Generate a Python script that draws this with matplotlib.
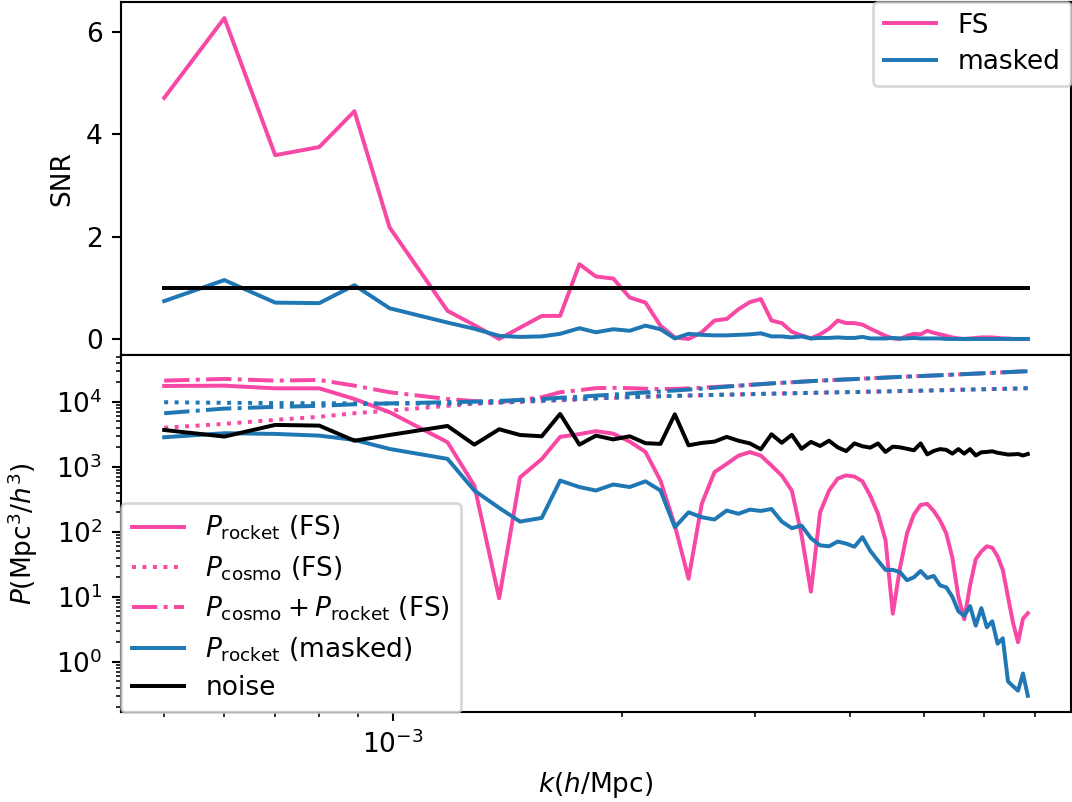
import matplotlib
matplotlib.use("Agg")
import matplotlib.pyplot as plt
import numpy as np

# k values (units of 1e-3 h/Mpc)
k_vals = [0.50, 0.60, 0.70, 0.80, 0.89, 0.99, 1.18, 1.28, 1.38, 1.47, 1.57, 1.66, 1.76,
          1.85, 1.95, 2.05, 2.15, 2.25, 2.35, 2.45, 2.55, 2.65, 2.75,
          2.85, 2.95, 3.05, 3.15, 3.25, 3.35, 3.45, 3.55, 3.65, 3.75,
          3.85, 3.95, 4.05, 4.15, 4.25, 4.35, 4.45, 4.55, 4.65, 4.75,
          4.85, 4.95, 5.05, 5.15, 5.25, 5.35, 5.45, 5.55, 5.65, 5.75,
          5.85, 5.95, 6.05, 6.15, 6.25, 6.35, 6.45, 6.55, 6.65, 6.75, 6.85]

snr_fs = [4.71, 6.27, 3.59, 3.75, 4.45, 2.18, 0.55, 0.27, 0.00, 0.22, 0.45, 0.45, 1.46,
          1.22, 1.18, 0.81, 0.71, 0.26, 0.03, 0.00, 0.13, 0.36, 0.39,
          0.58, 0.72, 0.78, 0.36, 0.31, 0.14, 0.07, 0.01, 0.09, 0.20,
          0.36, 0.31, 0.31, 0.28, 0.20, 0.13, 0.06, 0.01, 0.00, 0.06,
          0.10, 0.09, 0.16, 0.12, 0.09, 0.06, 0.03, 0.01, 0.00, 0.01,
          0.02, 0.03, 0.03, 0.03, 0.02, 0.01, 0.01, 0.00, 0.00, 0.00, 0.00]

snr_masked = [0.74, 1.15, 0.71, 0.70, 1.05, 0.60, 0.32, 0.20, 0.06, 0.04, 0.05, 0.10, 0.21,
              0.13, 0.19, 0.16, 0.26, 0.19, 0.01, 0.10, 0.08, 0.07, 0.07,
              0.08, 0.09, 0.11, 0.05, 0.05, 0.03, 0.05, 0.01, 0.02, 0.02,
              0.03, 0.02, 0.02, 0.04, 0.01, 0.01, 0.01, 0.02, 0.01, 0.01,
              0.02, 0.01, 0.01, 0.01, 0.01, 0.00, 0.00, 0.00, 0.00, 0.00,
              0.00, 0.00, 0.00, 0.00, 0.00, 0.00, 0.00, 0.00, 0.00, 0.00, 0.00]

snr_level = 1.0
snr_ticks = [0, 2, 4, 6]

p_rocket_fs = [17600, 17800, 16200, 16200, 11100, 6950, 2400, 515, 9.5, 690, 1320, 2900, 3200,
               3550, 3250, 2450, 1700, 616, 126, 19, 270, 830, 1110,
               1490, 1690, 1490, 1050, 735, 433, 90, 12, 200, 430,
               660, 740, 710, 600, 360, 190, 75, 5.5, 28, 95,
               185, 260, 270, 210, 150, 95, 40, 10, 4.5, 15,
               38, 50, 60, 57, 42, 26, 10, 4, 2.0, 4.6, 5.6]

p_cosmo_fs = [4000, 4600, 5300, 5900, 6700, 7350, 8700, 9400, 9700, 10000, 10300, 10600, 10900,
              11300, 11600, 11850, 12050, 12250, 12400, 12550, 12700, 12850, 12950,
              13050, 13150, 13300, 13400, 13500, 13600, 13700, 13800, 13900, 14000,
              14050, 14150, 14200, 14300, 14400, 14450, 14550, 14600, 14700, 14750,
              14850, 14900, 15000, 15050, 15150, 15200, 15300, 15350, 15450, 15500,
              15600, 15650, 15700, 15800, 15850, 15900, 16000, 16050, 16100, 16200, 16300]

p_total_fs = [21300, 22600, 21300, 21800, 17800, 14100, 11100, 10300, 9900, 10800, 11800, 14100, 15200,
              16300, 16500, 16300, 16000, 15800, 15900, 16200, 16600, 17000, 17400,
              17800, 18300, 18800, 19300, 19700, 20100, 20500, 20900, 21300, 21600,
              21900, 22200, 22500, 22800, 23100, 23400, 23700, 24000, 24300, 24550,
              24800, 25050, 25300, 25550, 25800, 26050, 26300, 26550, 26800, 27050,
              27300, 27550, 27800, 28050, 28300, 28550, 28800, 29050, 29300, 29500, 29700]

p_rocket_masked = [2860, 3300, 3220, 3030, 2600, 1890, 1330, 433, 234, 144, 164, 616, 490,
                   433, 536, 490, 600, 433, 118, 200, 168, 155, 213,
                   190, 220, 210, 225, 144, 114, 125, 80, 62, 60,
                   71, 66, 59, 83, 51, 36, 26, 26, 24, 18,
                   20, 25, 19.5, 21, 15, 14, 10, 6, 5.1, 7.2,
                   3.6, 6.7, 3.4, 4.2, 1.9, 2.3, 0.5, 0.42, 0.36, 0.66, 0.30]

p_cosmo_masked = [9900, 9700, 9600, 9550, 9500, 9450, 9400, 9600, 9900, 10200, 10500, 10800, 11100,
                  11400, 11650, 11850, 12050, 12250, 12400, 12550, 12700, 12850, 12950,
                  13050, 13150, 13300, 13400, 13500, 13600, 13700, 13800, 13900, 14000,
                  14050, 14150, 14200, 14300, 14400, 14450, 14550, 14600, 14700, 14750,
                  14850, 14900, 15000, 15050, 15150, 15200, 15300, 15350, 15450, 15500,
                  15600, 15650, 15700, 15800, 15850, 15900, 16000, 16050, 16100, 16200, 16300]

p_total_masked = [6700, 7900, 8400, 8700, 9200, 9500, 9900, 10100, 10400, 10700, 11100, 11600, 12000,
                  12500, 13000, 13500, 14000, 14500, 15000, 15500, 16000, 16600, 17200,
                  17800, 18300, 18800, 19300, 19700, 20100, 20500, 20900, 21300, 21600,
                  21900, 22200, 22500, 22800, 23100, 23400, 23700, 24000, 24300, 24550,
                  24800, 25050, 25300, 25550, 25800, 26050, 26300, 26550, 26800, 27050,
                  27300, 27550, 27800, 28050, 28300, 28550, 28800, 29050, 29300, 29500, 29700]

p_noise = [3700, 2930, 4430, 4320, 2530, 3100, 4270, 2200, 3800, 3100, 2960, 6530, 2200,
           3030, 2650, 2960, 2320, 2260, 6450, 2150, 2340, 2450, 2900,
           2530, 2300, 1870, 3180, 2350, 3120, 1900, 2430, 2100, 2530,
           2000, 1750, 2300, 2080, 1980, 2300, 1700, 2050, 2000, 1900,
           1800, 2300, 1560, 1760, 1880, 1830, 1600, 1880, 1600, 1880,
           1500, 1680, 1700, 1740, 1650, 1600, 1550, 1560, 1580, 1500, 1580]

PINK = "#f748a5"
BLUE = "#1f77b4"


def main():
    k = np.array(k_vals) * 1e-3

    W, H, DPI = 1072, 802, 190
    fig = plt.figure(figsize=(W / DPI, H / DPI), dpi=DPI)
    left, right = 121 / W, 1071 / W
    ax1 = fig.add_axes([left, 1 - 355 / H, right - left, 353 / H])
    ax2 = fig.add_axes([left, 1 - 712 / H, right - left, 357 / H], sharex=ax1)

    # SNR
    ax1.plot(k, snr_fs, color=PINK, label="FS")
    ax1.plot(k, snr_masked, color=BLUE, label="masked")
    ax1.plot([k[0], k[-1]], [snr_level, snr_level], color="black")
    ax1.set_yticks(snr_ticks)
    ax1.set_ylabel("SNR")
    ax1.legend(loc="upper right", borderaxespad=0, labelspacing=0.4)
    ax1.tick_params(labelbottom=False)

    # spectra
    ax2.plot(k, p_rocket_fs, color=PINK, label=r"$P_{\rm rocket}$ (FS)")
    ax2.plot(k, p_cosmo_fs, color=PINK, ls=":", label=r"$P_{\rm cosmo}$ (FS)")
    ax2.plot(k, p_total_fs, color=PINK, ls="-.", label=r"$P_{\rm cosmo}+P_{\rm rocket}$ (FS)")
    ax2.plot(k, p_rocket_masked, color=BLUE, label=r"$P_{\rm rocket}$ (masked)")
    ax2.plot(k, p_cosmo_masked, color=BLUE, ls=":")
    ax2.plot(k, p_total_masked, color=BLUE, ls="-.")
    ax2.plot(k, p_noise, color="black", label="noise")
    ax2.set_xscale("log")
    ax2.set_yscale("log")
    ax2.set_xlabel(r"$k(h/{\rm Mpc})$")
    ax2.set_ylabel(r"$P({\rm Mpc}^3/h^3)$", labelpad=6)
    ax2.legend(loc="lower left", borderaxespad=0, labelspacing=0.45)

    fig.savefig("out.png", dpi=DPI)


if __name__ == "__main__":
    main()
